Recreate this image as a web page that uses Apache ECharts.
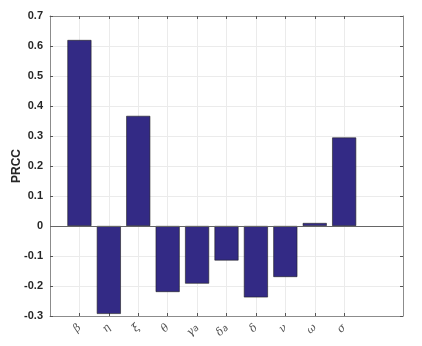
<!DOCTYPE html>
<html>
<head>
<meta charset="utf-8">
<script src="https://cdn.jsdelivr.net/npm/echarts@6/dist/echarts.min.js"></script>
<style>html,body{margin:0;padding:0;background:#fff;}#c{width:422px;height:346px;}</style>
</head>
<body>
<div id="c"></div>
<script>
// Categories (positions 0..12 on the x axis; parameters sit at 1..10)
const categories = ['', 'β', 'η', 'ξ', 'θ', 'γa', 'δa', 'δ', 'ν', 'ω', 'σ', ' ', '  '];
const prccValues = [null, 0.62, -0.293, 0.367, -0.22, -0.192, -0.115, -0.238, -0.17, 0.01, 0.295, null, null];
const yTicks = [-0.3, -0.2, -0.1, 0, 0.1, 0.2, 0.3, 0.4, 0.5, 0.6, 0.7];

const chart = echarts.init(document.getElementById('c'), null, {renderer: 'canvas'});
const inRange = (i) => i >= 1 && i <= 10;
const axisColor = '#8c8c8c';
const option = {
  animation: false,
  grid: {left: 50, right: 19, top: 16, bottom: 30, containLabel: false, outerBoundsMode: 'none'},
  xAxis: [{
    type: 'category', data: categories, boundaryGap: false, position: 'bottom',
    axisLine: {onZero: false, lineStyle: {color: axisColor, width: 1}},
    axisTick: {inside: true, length: 3, interval: (i) => inRange(i), lineStyle: {color: '#555'}},
    splitLine: {show: true, interval: (i) => inRange(i), lineStyle: {color: '#ebebeb', width: 1}},
    axisLabel: {
      interval: (i) => inRange(i), rotate: 45, fontSize: 11, color: '#555', margin: 10,
      fontFamily: 'DejaVu Serif', fontStyle: 'italic',
      formatter: (v) => v.length === 2 && v[1] === 'a' ? v[0] + '{s|a}' : v,
      rich: {s: {fontSize: 9, color: '#555', verticalAlign: 'bottom', fontFamily: 'DejaVu Sans'}}
    }
  }, {
    type: 'category', data: categories, boundaryGap: false, position: 'top',
    axisLine: {onZero: false, lineStyle: {color: axisColor, width: 1}},
    axisTick: {inside: true, length: 3, interval: (i) => inRange(i), lineStyle: {color: '#555'}},
    axisLabel: {show: false}, splitLine: {show: false}
  }],
  yAxis: [{
    type: 'value', min: yTicks[0], max: yTicks[yTicks.length - 1], interval: 0.1, position: 'left',
    name: 'PRCC', nameLocation: 'middle', nameGap: 27, nameRotate: 90, nameMoveOverlap: false,
    nameTextStyle: {fontSize: 12, fontWeight: 'bold', color: '#262626', fontFamily: 'Liberation Sans'},
    axisLine: {show: true, onZero: false, lineStyle: {color: axisColor}},
    axisTick: {show: true, inside: true, length: 3, lineStyle: {color: '#555'}},
    splitLine: {show: true, lineStyle: {color: '#ebebeb'}},
    axisLabel: {fontSize: 11, fontWeight: 'bold', color: '#262626', fontFamily: 'Liberation Sans', margin: 7,
      formatter: (v) => String(Math.round(v * 10) / 10)}
  }, {
    type: 'value', min: yTicks[0], max: yTicks[yTicks.length - 1], interval: 0.1, position: 'right',
    axisLine: {show: true, onZero: false, lineStyle: {color: axisColor}},
    axisTick: {show: true, inside: true, length: 3, lineStyle: {color: '#555'}},
    axisLabel: {show: false}, splitLine: {show: false}
  }],
  series: [{
    type: 'bar', data: prccValues, barWidth: 24, xAxisIndex: 0, yAxisIndex: 0,
    itemStyle: {color: '#332a85', borderColor: '#1e1e1e', borderWidth: 0.6},
    markLine: {
      silent: true, symbol: 'none', label: {show: false},
      lineStyle: {color: '#666', width: 1, type: 'solid'},
      data: [{yAxis: 0}]
    }
  }]
};
chart.setOption(option);
</script>
</body>
</html>
